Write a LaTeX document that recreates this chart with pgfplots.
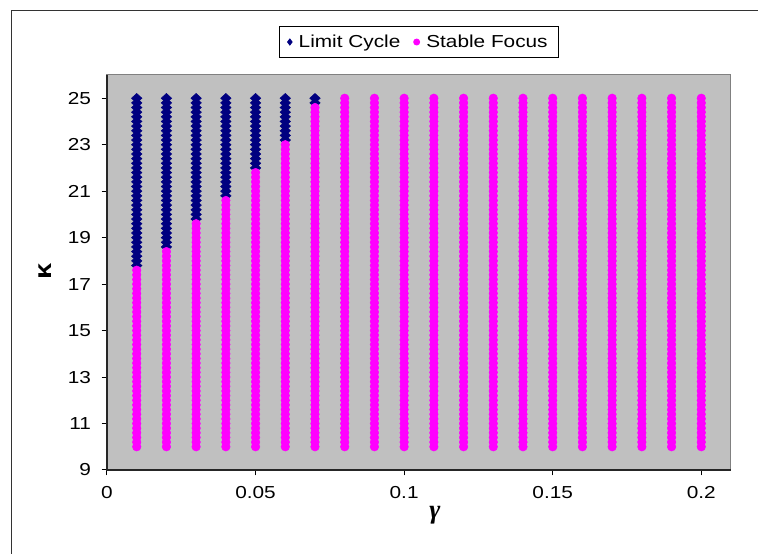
\documentclass[border=0pt]{standalone}
\usepackage{fontspec}
\setmainfont{Liberation Sans}[FakeStretch=1.2]
\newfontfamily\serifgreek{Liberation Serif}
\usepackage{pgfplots}
\pgfplotsset{compat=1.18}
\usepackage{pgfplotstable}

\definecolor{lcnavy}{HTML}{000080}
\definecolor{sfpink}{HTML}{FF00FF}
\definecolor{plotgray}{HTML}{C0C0C0}

% K values computed in every gamma column
\pgfplotstableread[row sep=\\]{K\\
10\\ 10.2\\ 10.4\\ 10.6\\ 10.8\\ 11\\ 11.2\\ 11.4\\ 11.6\\ 11.8\\
12\\ 12.2\\ 12.4\\ 12.6\\ 12.8\\ 13\\ 13.2\\ 13.4\\ 13.6\\ 13.8\\
14\\ 14.2\\ 14.4\\ 14.6\\ 14.8\\ 15\\ 15.2\\ 15.4\\ 15.6\\ 15.8\\
16\\ 16.2\\ 16.4\\ 16.6\\ 16.8\\ 17\\ 17.2\\ 17.4\\ 17.6\\ 17.8\\
18\\ 18.2\\ 18.4\\ 18.6\\ 18.8\\ 19\\ 19.2\\ 19.4\\ 19.6\\ 19.8\\
20\\ 20.2\\ 20.4\\ 20.6\\ 20.8\\ 21\\ 21.2\\ 21.4\\ 21.6\\ 21.8\\
22\\ 22.2\\ 22.4\\ 22.6\\ 22.8\\ 23\\ 23.2\\ 23.4\\ 23.6\\ 23.8\\
24\\ 24.2\\ 24.4\\ 24.6\\ 24.8\\ 25\\
}\Kgrid

\pgfplotsset{
  lc/.style={only marks, mark=diamond*, color=lcnavy, mark size=3.6pt, mark options={xscale=1.45}},
  sf/.style={only marks, mark=*, color=sfpink, mark size=3.2pt},
}

\begin{document}
\begin{tikzpicture}[font=\fontsize{13}{15}\selectfont]
\useasboundingbox (0,0) rectangle (568.5pt,415.5pt);
\draw[black!80, line width=0.75pt] (8.25pt,-5pt) -- (8.25pt,407.25pt) -- (575pt,407.25pt);
\begin{axis}[
  at={(80.25pt,63pt)}, anchor=south west,
  scale only axis, width=468pt, height=296.25pt,
  xmin=0, xmax=0.21, ymin=9, ymax=26,
  xtick={0,0.05,0.1,0.15,0.2}, ytick={9,11,...,25},
  scaled x ticks=false,
  tick align=outside, xtick pos=bottom, ytick pos=left,
  major tick length=4pt,
  tick style={black, line width=0.75pt},
  axis background/.style={fill=plotgray},
  axis line style={draw=black!50, line width=0.75pt},
  clip=false,
  /pgf/number format/.cd, fixed, precision=2, assume math mode=true, /pgfplots/.cd,
  ticklabel style={font=\fontsize{13}{15}\selectfont},
  xticklabel style={yshift=-4.5pt},
  yticklabel style={xshift=-4.5pt},
  xlabel={\serifgreek\bfseries\itshape\fontsize{20}{22}\selectfont γ},
  ylabel={\bfseries\fontsize{18}{20}\selectfont κ},
  xlabel style={at={(axis description cs:0.5256,-0.1139)}, anchor=center},
  ylabel style={at={(axis description cs:-0.0988,0.502)}, anchor=center},
  legend columns=2,
  legend style={at={(0.5,1.0835)}, anchor=center, draw=black, line width=0.75pt,
    fill=white, font=\fontsize{13}{15}\selectfont, inner xsep=6pt, inner ysep=4pt,
    /tikz/every odd column/.append style={column sep=3pt},
    /tikz/every even column/.append style={column sep=8pt}},
  legend image code/.code={\draw[mark repeat=2,mark phase=2,#1] plot coordinates {(0cm,0cm) (0.15cm,0cm) (0.3cm,0cm)};},
  legend image post style={mark size=2.2pt, mark options={xscale=1}},
]
\addplot[lc] table[x expr=0.01, y=K, restrict y to domain=17.7:26] {\Kgrid};
\addlegendentry{Limit Cycle}
\addplot[sf] table[x expr=0.01, y=K, restrict y to domain=9:17.7] {\Kgrid};
\addlegendentry{Stable Focus}

% limit cycle, upper part of the first columns
\addplot[lc, forget plot] table[x expr=0.02, y=K, restrict y to domain=18.5:26] {\Kgrid};
\addplot[lc, forget plot] table[x expr=0.03, y=K, restrict y to domain=19.7:26] {\Kgrid};
\addplot[lc, forget plot] table[x expr=0.04, y=K, restrict y to domain=20.7:26] {\Kgrid};
\addplot[lc, forget plot] table[x expr=0.05, y=K, restrict y to domain=21.9:26] {\Kgrid};
\addplot[lc, forget plot] table[x expr=0.06, y=K, restrict y to domain=23.1:26] {\Kgrid};
\addplot[lc, forget plot] table[x expr=0.07, y=K, restrict y to domain=24.7:26] {\Kgrid};

% stable focus
\addplot[sf, forget plot] table[x expr=0.02, y=K, restrict y to domain=9:18.5] {\Kgrid};
\addplot[sf, forget plot] table[x expr=0.03, y=K, restrict y to domain=9:19.7] {\Kgrid};
\addplot[sf, forget plot] table[x expr=0.04, y=K, restrict y to domain=9:20.7] {\Kgrid};
\addplot[sf, forget plot] table[x expr=0.05, y=K, restrict y to domain=9:21.9] {\Kgrid};
\addplot[sf, forget plot] table[x expr=0.06, y=K, restrict y to domain=9:23.1] {\Kgrid};
\addplot[sf, forget plot] table[x expr=0.07, y=K, restrict y to domain=9:24.7] {\Kgrid};
\addplot[sf, forget plot] table[x expr=0.08, y=K] {\Kgrid};
\addplot[sf, forget plot] table[x expr=0.09, y=K] {\Kgrid};
\addplot[sf, forget plot] table[x expr=0.10, y=K] {\Kgrid};
\addplot[sf, forget plot] table[x expr=0.11, y=K] {\Kgrid};
\addplot[sf, forget plot] table[x expr=0.12, y=K] {\Kgrid};
\addplot[sf, forget plot] table[x expr=0.13, y=K] {\Kgrid};
\addplot[sf, forget plot] table[x expr=0.14, y=K] {\Kgrid};
\addplot[sf, forget plot] table[x expr=0.15, y=K] {\Kgrid};
\addplot[sf, forget plot] table[x expr=0.16, y=K] {\Kgrid};
\addplot[sf, forget plot] table[x expr=0.17, y=K] {\Kgrid};
\addplot[sf, forget plot] table[x expr=0.18, y=K] {\Kgrid};
\addplot[sf, forget plot] table[x expr=0.19, y=K] {\Kgrid};
\addplot[sf, forget plot] table[x expr=0.20, y=K] {\Kgrid};

\draw[black!85, line width=1pt] (rel axis cs:0,1) -- (rel axis cs:0,0) -- (rel axis cs:1,0);
\end{axis}
\end{tikzpicture}
\end{document}
